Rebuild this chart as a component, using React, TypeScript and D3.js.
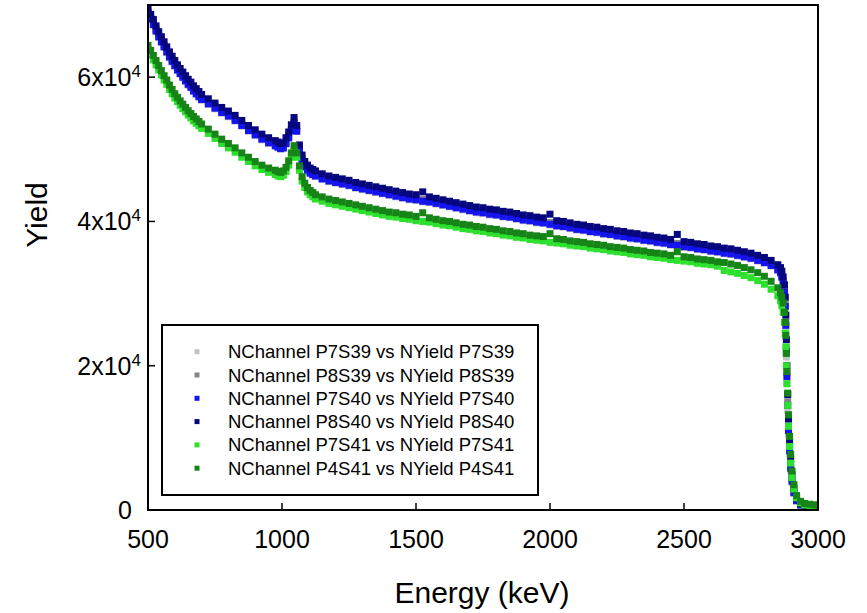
import React from 'react';
import * as d3 from 'd3';

// Energy (keV) channels
const energy = [
  500, 510, 520, 530, 540, 550, 560, 570, 580, 590, 600, 610, 620, 630, 640, 650, 660, 670, 680, 690, 700,
  725, 750, 775, 800, 825, 850, 875, 900, 925, 950, 975,
  985, 995, 1005, 1015, 1025, 1035, 1045, 1055, 1065, 1075, 1085, 1095, 1105, 1115, 1125,
  1150, 1175, 1200, 1225, 1250, 1275, 1300, 1325, 1350, 1375, 1400, 1425, 1450, 1475, 1500, 1525, 1550, 1575, 1600, 1625, 1650, 1675, 1700, 1725, 1750, 1775, 1800, 1825, 1850, 1875, 1900, 1925, 1950, 1975, 2000, 2025, 2050, 2075, 2100, 2125, 2150, 2175, 2200, 2225, 2250, 2275, 2300, 2325, 2350, 2375, 2400, 2425, 2450, 2475, 2500, 2525, 2550, 2575, 2600, 2625, 2650, 2675, 2700, 2725, 2750, 2775, 2800, 2825, 2850,
  2860, 2865, 2870, 2875, 2878, 2880, 2882, 2884, 2887, 2890, 2894, 2898, 2903, 2910, 2920, 2935, 2950, 2970, 2990, 3000,
];

const yieldP7S39 = [
  68800, 68000, 67200, 66300, 65500, 64800, 64100, 63400, 62700, 62100, 61500, 60900, 60400, 59900, 59400, 58900, 58500, 58000, 57600, 57200, 56800,
  56200, 55600, 55000, 54500, 53900, 53200, 52500, 51900, 51300, 50800, 50400,
  50200, 50000, 50100, 50700, 51500, 52500, 53500, 52500, 49800, 48400, 47500, 47000, 46600, 46400, 46200,
  45800, 45500, 45300, 45100, 44900, 44600, 44400, 44200, 44000, 43800, 43600, 43400, 43200, 43000, 42900, 42700, 42600, 42400, 42200, 42000, 41800, 41600, 41400, 41200, 41100, 40900, 40800, 40600, 40500, 40300, 40100, 40000, 39800, 39700, 39500, 39300, 39200, 39000, 38800, 38700, 38500, 38400, 38200, 38100, 37900, 37800, 37600, 37500, 37300, 37200, 37000, 36900, 36700, 36600, 36400, 36300, 36100, 36000, 35800, 35700, 35500, 35400, 35200, 35000, 34800, 34500, 34200, 33800, 33200,
  32800, 32200, 31300, 29800, 27600, 24800, 21200, 17700, 13800, 10500, 7800, 5500, 3800, 2300, 1200, 650, 400, 300, 250, 250,
];

const yieldP8S39 = [
  69150, 68350, 67550, 66650, 65850, 65150, 64450, 63750, 63050, 62450, 61850, 61250, 60750, 60250, 59750, 59250, 58850, 58350, 57950, 57550, 57150,
  56550, 55950, 55350, 54850, 54250, 53550, 52850, 52250, 51650, 51150, 50750,
  50550, 50350, 50450, 51050, 51850, 52850, 53850, 52850, 50150, 48750, 47850, 47350, 46950, 46750, 46550,
  46150, 45850, 45650, 45450, 45250, 44950, 44750, 44550, 44350, 44150, 43950, 43750, 43550, 43350, 43250, 43050, 42950, 42750, 42550, 42350, 42150, 41950, 41750, 41550, 41450, 41250, 41150, 40950, 40850, 40650, 40450, 40350, 40150, 40050, 39850, 39650, 39550, 39350, 39150, 39050, 38850, 38750, 38550, 38450, 38250, 38150, 37950, 37850, 37650, 37550, 37350, 37250, 37050, 36950, 36750, 36650, 36450, 36350, 36150, 36050, 35850, 35750, 35550, 35350, 35150, 34850, 34550, 34150, 33550,
  33100, 32600, 31800, 30500, 28600, 26000, 22500, 19000, 15000, 11500, 8600, 6200, 4300, 2600, 1400, 750, 450, 350, 300, 300,
];

const yieldP7S40 = [
  68900, 68100, 67300, 66400, 65600, 64900, 64200, 63500, 62800, 62200, 61600, 61000, 60500, 60000, 59500, 59000, 58600, 58100, 57700, 57300, 56900,
  56300, 55700, 55100, 54600, 54000, 53300, 52600, 52000, 51400, 50900, 50500,
  50300, 50100, 50200, 50800, 51600, 52600, 53600, 52500, 49900, 48500, 47600, 47100, 46700, 46500, 46300,
  45900, 45600, 45400, 45200, 45000, 44700, 44500, 44300, 44100, 43900, 43700, 43500, 43300, 43100, 43000, 42800, 42700, 42500, 42300, 42100, 41900, 41700, 41500, 41300, 41200, 41000, 40900, 40700, 40600, 40400, 40200, 40100, 39900, 39800, 39600, 39400, 39300, 39100, 38900, 38800, 38600, 38500, 38300, 38200, 38000, 37900, 37700, 37600, 37400, 37300, 37100, 37000, 36800, 36700, 36500, 36400, 36200, 36100, 35900, 35800, 35600, 35500, 35300, 35100, 34900, 34600, 34300, 33900, 33300,
  32900, 32300, 31500, 30200, 28200, 25600, 22000, 18500, 14500, 11000, 8200, 5800, 4000, 2400, 1300, 700, 400, 300, 250, 250,
];

const yieldP8S40 = [
  69600, 68700, 68000, 67100, 66300, 65600, 64900, 64200, 63500, 62900, 62300, 61700, 61200, 60700, 60200, 59700, 59300, 58800, 58400, 58000, 57600,
  57000, 56400, 55800, 55300, 54700, 54000, 53300, 52700, 52100, 51600, 51200,
  51000, 50800, 50900, 51600, 52400, 53400, 54400, 53300, 50600, 49200, 48300, 47800, 47400, 47200, 47000,
  46600, 46300, 46100, 45900, 45700, 45400, 45200, 45000, 44800, 44600, 44400, 44200, 44000, 43800, 43700, 44100, 43400, 43200, 43000, 42800, 42600, 42400, 42200, 42000, 41900, 41700, 41600, 41400, 41300, 41100, 40900, 40800, 40600, 40500, 41000, 40100, 40000, 39800, 39600, 39500, 39300, 39200, 39000, 38900, 38700, 38600, 38400, 38300, 38100, 38000, 37800, 37700, 37500, 38200, 37200, 37100, 36900, 36800, 36600, 36500, 36300, 36200, 36000, 35800, 35600, 35300, 35000, 34600, 34000,
  33600, 33100, 32300, 31200, 29500, 27000, 23600, 20000, 16000, 12600, 9500, 7000, 4900, 3100, 1700, 900, 600, 500, 400, 400,
];

const yieldP7S41 = [
  63800, 63100, 62400, 61700, 61000, 60300, 59600, 59000, 58300, 57700, 57100, 56600, 56100, 55650, 55200, 54750, 54350, 53950, 53600, 53250, 52900,
  52200, 51500, 50800, 50200, 49600, 48900, 48300, 47700, 47200, 46800, 46500,
  46300, 46200, 46400, 46900, 47800, 48900, 49900, 48900, 47100, 45600, 44700, 44100, 43700, 43400, 43100,
  42800, 42500, 42300, 42100, 41900, 41700, 41500, 41300, 41100, 40900, 40700, 40600, 40400, 40300, 40100, 40000, 39900, 39700, 39500, 39400, 39200, 39000, 38900, 38700, 38600, 38400, 38300, 38100, 38000, 37800, 37700, 37500, 37400, 37300, 37100, 37000, 36900, 36700, 36600, 36500, 36300, 36200, 36100, 35900, 35800, 35700, 35500, 35400, 35300, 35100, 35000, 34900, 34700, 34600, 34500, 34400, 34200, 34100, 34000, 33800, 33200, 33000, 32800, 32500, 32200, 31800, 31300, 30600, 29700,
  29000, 28300, 27400, 26000, 24500, 22600, 20000, 17500, 14500, 11600, 8800, 6500, 4500, 2900, 1700, 1000, 700, 600, 550, 550,
];

const yieldP4S41 = [
  64400, 63700, 63000, 62300, 61600, 60900, 60200, 59600, 58900, 58300, 57700, 57200, 56700, 56250, 55800, 55350, 54950, 54550, 54200, 53850, 53500,
  52800, 52100, 51400, 50800, 50200, 49500, 48900, 48300, 47800, 47400, 47100,
  46900, 46800, 47000, 47500, 48400, 49500, 50500, 49500, 47700, 46200, 45300, 44700, 44300, 44000, 43700,
  43400, 43100, 42900, 42700, 42500, 42300, 42100, 41900, 41700, 41500, 41300, 41200, 41000, 40900, 40700, 41200, 40500, 40300, 40100, 40000, 39800, 39600, 39500, 39300, 39200, 39000, 38900, 38700, 38600, 38400, 38300, 38100, 38000, 37900, 38300, 37600, 37500, 37300, 37200, 37100, 36900, 36800, 36700, 36500, 36400, 36300, 36100, 36000, 35900, 35700, 35600, 35500, 35300, 35800, 35100, 35000, 34800, 34700, 34600, 34400, 34300, 34100, 33900, 33600, 33300, 32900, 32400, 31700, 30800,
  30100, 29500, 28700, 27400, 26000, 24200, 21700, 19200, 16200, 13200, 10200, 7700, 5400, 3500, 2000, 1200, 900, 800, 700, 700,
];

const seriesNames = [
  'NChannel P7S39 vs NYield P7S39',
  'NChannel P8S39 vs NYield P8S39',
  'NChannel P7S40 vs NYield P7S40',
  'NChannel P8S40 vs NYield P8S40',
  'NChannel P7S41 vs NYield P7S41',
  'NChannel P4S41 vs NYield P4S41',
];
const seriesColors = ['#c4c4c4', '#858585', '#1414f0', '#06067e', '#2ee02e', '#168416'];

const xTicks = [500, 1000, 1500, 2000, 2500, 3000];
const yTicks = [0, 20000, 40000, 60000];

export default function App() {
  const W = 867;
  const H = 613;
  const left = 148, right = 818, top = 5, bottom = 510;
  const x = d3.scaleLinear().domain([500, 3000]).range([left, right]);
  const y = d3.scaleLinear().domain([0, 70000]).range([bottom, top]);
  const series = [yieldP7S39, yieldP8S39, yieldP7S40, yieldP8S40, yieldP7S41, yieldP4S41];
  const ms = 7;
  const font = "'Liberation Sans', Arial, Helvetica, sans-serif";
  const leg = { x: 162, y: 325, w: 376, h: 170, row0: 351.7, step: 23.3 };

  return (
    <svg width={W} height={H} style={{ position: 'absolute', left: 0, top: 0, background: '#fff' }} fontFamily={font}>
      <defs>
        <clipPath id="plotclip">
          <rect x={left} y={top} width={right - left} height={bottom - top} />
        </clipPath>
      </defs>
      <rect x={0} y={0} width={W} height={H} fill="#fff" />
      <g clipPath="url(#plotclip)">
        {series.map((vals, si) => (
          <g key={si} fill={seriesColors[si]}>
            {vals.map((v, i) =>
              i < energy.length ? (
                <rect key={i} x={x(energy[i]) - ms / 2} y={y(v) - ms / 2} width={ms} height={ms} />
              ) : null
            )}
          </g>
        ))}
      </g>
      {/* frame */}
      <rect x={left} y={top} width={right - left} height={bottom - top} fill="none" stroke="#000" strokeWidth={2} />
      {/* x ticks */}
      {xTicks.map((t) => (
        <g key={t}>
          <line x1={x(t)} x2={x(t)} y1={bottom} y2={bottom - 7} stroke="#000" strokeWidth={1.5} />
          <text x={x(t)} y={548} textAnchor="middle" fontSize={25} fill="#000">{t}</text>
        </g>
      ))}
      {/* y ticks */}
      {yTicks.map((t) => (
        <g key={t}>
          <line x1={left} x2={left + 7} y1={y(t)} y2={y(t)} stroke="#000" strokeWidth={1.5} />
          {t === 0 ? (
            <text x={132} y={y(t) + 9} textAnchor="end" fontSize={25} fill="#000">0</text>
          ) : (
            <text x={141} y={y(t) + 9} textAnchor="end" fontSize={25} fill="#000">
              {`${t / 10000}x10`}
              <tspan dy={-9} fontSize={17}>4</tspan>
            </text>
          )}
        </g>
      ))}
      {/* axis titles */}
      <text x={482} y={603} textAnchor="middle" fontSize={30} fill="#000">Energy (keV)</text>
      <text transform="translate(47,215) rotate(-90)" textAnchor="middle" fontSize={30} fill="#000">Yield</text>
      {/* legend */}
      <rect x={leg.x} y={leg.y} width={leg.w} height={leg.h} fill="#fff" stroke="#000" strokeWidth={2} />
      {seriesNames.map((name, i) => {
        const cy = leg.row0 + i * leg.step;
        return (
          <g key={name}>
            <rect x={194.5} y={cy - 2.5} width={5} height={5} fill={seriesColors[i]} />
            <text x={228} y={cy + 6.5} fontSize={18.5} fill="#000">{name}</text>
          </g>
        );
      })}
    </svg>
  );
}
